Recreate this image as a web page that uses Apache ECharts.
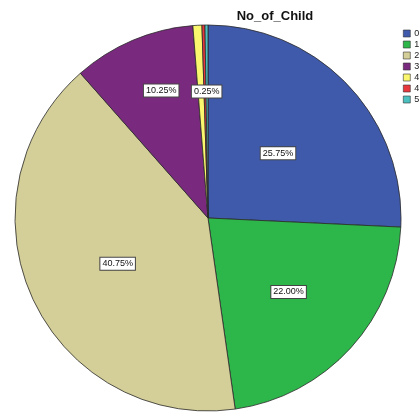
<!DOCTYPE html>
<html>
<head>
<meta charset="utf-8">
<script src="https://cdn.jsdelivr.net/npm/echarts@6/dist/echarts.min.js"></script>
<style>
html,body{margin:0;padding:0;background:#fff;}
#chart{width:420px;height:415px;}
</style>
</head>
<body>
<div id="chart"></div>
<script>
// Number of children: category labels and percentage shares
const categories = ['0', '1', '2', '3', '4', '4', '5'];
const shares = [25.75, 22.00, 40.75, 10.25, 0.75, 0.25, 0.25];
// which slices carry a percentage label
const labelled = [true, true, true, true, false, true, false];
const colors = ['#3F5AAA', '#2DB74A', '#D4CE98', '#7A2A7E', '#FAF66E', '#E8383D', '#4CC0C0'];
// nudges for the percentage boxes, away from the default mid-radius spot
const labelNudge = [[-2, 4], [7, 7], [0, 4], [-8, -36], [0, 0], [1, -27], [0, 0]];

const chart = echarts.init(document.getElementById('chart'));

const data = categories.map((c, i) => ({
  name: c + '#' + i,
  value: shares[i],
  itemStyle: { color: colors[i] },
  label: { show: labelled[i], offset: labelNudge[i] }
}));

chart.setOption({
  animation: false,
  title: {
    text: 'No_of_Child',
    left: 270,
    top: 5,
    textAlign: 'center',
    textStyle: { fontFamily: 'Liberation Sans, Arial, sans-serif', fontSize: 13, fontWeight: 'bold', color: '#111' }
  },
  legend: {
    orient: 'vertical',
    left: 403,
    top: 29,
    width: 40,
    padding: 0,
    itemWidth: 7,
    itemHeight: 7,
    itemGap: 2,
    icon: 'rect',
    itemStyle: { borderColor: '#333', borderWidth: 0.6 },
    formatter: name => name.split('#')[0],
    textStyle: {
      fontFamily: 'Liberation Sans, Arial, sans-serif', fontSize: 9, color: '#222',
      lineHeight: 8, overflow: 'none', width: 20, padding: [0, 0, 0, -1]
    },
    data: categories.map((c, i) => c + '#' + i)
  },
  series: [{
    type: 'pie',
    center: [208, 218],
    radius: [0, 193],
    startAngle: 90,
    clockwise: true,
    avoidLabelOverlap: false,
    itemStyle: { borderColor: '#2a2a2a', borderWidth: 0.8 },
    label: {
      position: 'inside',
      formatter: p => shares[p.dataIndex].toFixed(2) + '%',
      fontFamily: 'Liberation Sans, Arial, sans-serif',
      fontSize: 9,
      color: '#111',
      backgroundColor: '#fff',
      borderColor: '#444',
      borderWidth: 1,
      padding: [2, 2, 1, 2]
    },
    labelLine: { show: false },
    emphasis: { disabled: true },
    data: data
  }]
});
</script>
</body>
</html>
